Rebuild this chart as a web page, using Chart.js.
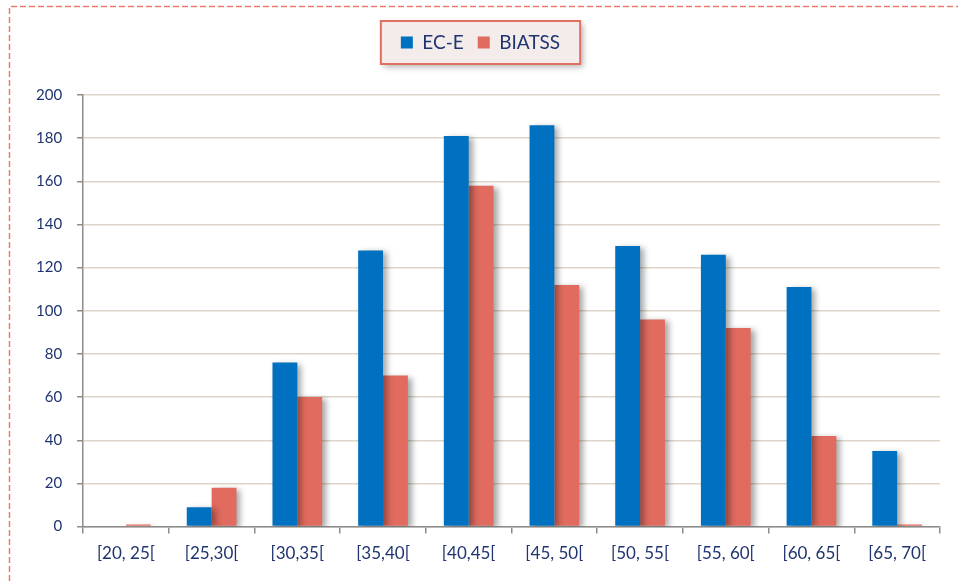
<!DOCTYPE html>
<html lang="fr">
<head>
    <meta charset="UTF-8">
    <title>EC-E / BIATSS par tranche d'âge</title>
    <script src="https://cdn.jsdelivr.net/npm/chart.js"></script>
    <style>
        body { margin: 0; padding: 0; background: #fff; }
        .wrap { width: 958px; height: 581px; position: relative; }
    </style>
</head>
<body>
    <div class="wrap">
        <canvas id="ageChart" width="958" height="581"></canvas>
    </div>
    <script>
        // Data
        const tranches = ['[20, 25[', '[25,30[', '[30,35[', '[35,40[', '[40,45[', '[45, 50[', '[50, 55[', '[55, 60[', '[60, 65[', '[65, 70['];
        const ecE = [0, 9, 76, 128, 181, 186, 130, 126, 111, 35];
        const biatss = [1, 18, 60, 70, 158, 112, 96, 92, 42, 1];

        const navy = '#1f3470';
        const blue = '#0070c0';
        const salmon = '#e06b5e';

        // dashed frame round the whole picture
        const framePlugin = {
            id: 'frame',
            beforeDraw(chart) {
                const ctx = chart.ctx;
                ctx.save();
                ctx.strokeStyle = '#ea7b6e';
                ctx.lineWidth = 1.5;
                ctx.setLineDash([6, 3]);
                ctx.beginPath();
                ctx.moveTo(9.5, 581);
                ctx.lineTo(9.5, 6.5);
                ctx.lineTo(958, 6.5);
                ctx.stroke();
                ctx.restore();
            }
        };

        // extra room under the legend + framed box behind it
        const legendBoxPlugin = {
            id: 'legendBox',
            beforeInit(chart) {
                const fit = chart.legend.fit;
                chart.legend.fit = function () {
                    fit.call(this);
                    this.height += 33;
                };
            },
            beforeDraw(chart) {
                const boxes = chart.legend.legendHitBoxes;
                if (!boxes || !boxes.length) return;
                let l = Infinity, r = -Infinity, t = Infinity, b = -Infinity;
                boxes.forEach(h => {
                    l = Math.min(l, h.left); r = Math.max(r, h.left + h.width);
                    t = Math.min(t, h.top); b = Math.max(b, h.top + h.height);
                });
                const ctx = chart.ctx;
                ctx.save();
                ctx.shadowColor = 'rgba(0,0,0,0.3)';
                ctx.shadowBlur = 6;
                ctx.shadowOffsetX = 3;
                ctx.shadowOffsetY = 3;
                ctx.fillStyle = '#f3ecea';
                ctx.fillRect(l - 20, t - 12, r - l + 40, b - t + 24);
                ctx.shadowColor = 'transparent';
                ctx.strokeStyle = '#e2705f';
                ctx.lineWidth = 2;
                ctx.strokeRect(l - 20, t - 12, r - l + 40, b - t + 24);
                ctx.restore();
            }
        };

        // soft drop shadow on the bars
        const barShadow = {
            id: 'barShadow',
            beforeDatasetsDraw(chart) {
                const ctx = chart.ctx;
                ctx.save();
                ctx.shadowColor = 'rgba(0,0,0,0.35)';
                ctx.shadowBlur = 6;
                ctx.shadowOffsetX = 4;
                ctx.shadowOffsetY = 2;
            },
            afterDatasetsDraw(chart) {
                chart.ctx.restore();
            }
        };

        new Chart(document.getElementById('ageChart').getContext('2d'), {
            type: 'bar',
            data: {
                labels: tranches,
                datasets: [
                    { label: 'EC-E', data: ecE, backgroundColor: blue },
                    { label: 'BIATSS', data: biatss, backgroundColor: salmon }
                ]
            },
            options: {
                responsive: false,
                animation: false,
                devicePixelRatio: 1,
                categoryPercentage: 0.58,
                barPercentage: 1.0,
                layout: { padding: { left: 21, right: 18, top: 19, bottom: 7 } },
                plugins: {
                    tooltip: { enabled: false },
                    legend: {
                        position: 'top',
                        labels: {
                            boxWidth: 12,
                            boxHeight: 12,
                            padding: 14,
                            color: navy,
                            font: { family: 'Lato', size: 19 }
                        }
                    }
                },
                scales: {
                    x: {
                        grid: { drawOnChartArea: false, color: '#8c8c8c', tickLength: 7, lineWidth: 1.5 },
                        border: { color: '#8c8c8c', width: 1.5 },
                        ticks: { color: navy, padding: 10, font: { family: 'Lato', size: 17 }, maxRotation: 0 }
                    },
                    y: {
                        min: 0,
                        max: 200,
                        ticks: { stepSize: 20, color: navy, padding: 15, font: { family: 'Lato', size: 15 } },
                        grid: { color: '#ddd5c8', lineWidth: 1.5, tickColor: '#8c8c8c', tickLength: 6 },
                        border: { color: '#8c8c8c', width: 1.5 }
                    }
                }
            },
            plugins: [framePlugin, legendBoxPlugin, barShadow]
        });
    </script>
</body>
</html>
